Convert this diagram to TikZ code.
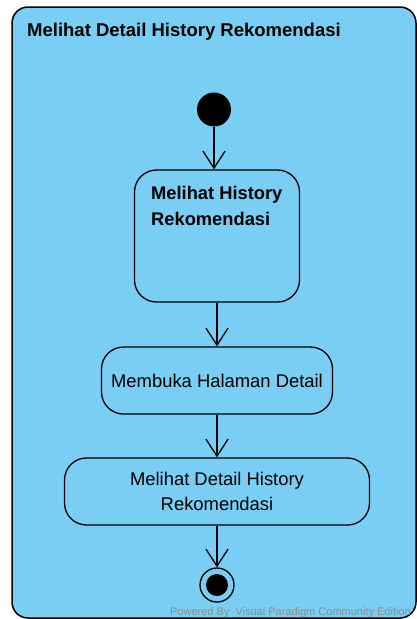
\documentclass[tikz,border=0pt]{standalone}
\usepackage{fontspec}
\setmainfont{Liberation Sans}
\usetikzlibrary{arrows.meta}
\definecolor{vpblue}{RGB}{122,206,244}
\definecolor{vpgray}{RGB}{140,140,140}

\begin{document}
\begin{tikzpicture}[x=1pt,y=-1pt]
      \useasboundingbox (0,0) rectangle (417,619);

      % partition frame
      \draw[fill=vpblue,line width=1.5pt,rounded corners=16pt] (12,7) rectangle (416,618);
      \node[anchor=base west,inner sep=0,font=\bfseries\fontsize{18.5}{22}\selectfont] (title) at (27,36) {Melihat Detail History Rekomendasi};

      \begin{scope}[every node/.style={draw,line width=1.3pt,rounded corners=22pt,font=\fontsize{18.4}{25}\selectfont,align=center}]
        \node[minimum width=165pt,minimum height=132pt] (act1) at (217,236) {};
        \node[minimum width=231pt,minimum height=67pt] (act2) at (217,380.5) {Membuka Halaman Detail};
        \node[minimum width=305pt,minimum height=67pt] (act3) at (217,491.5) {Melihat Detail History\\Rekomendasi};
      \end{scope}
      \node[anchor=north west,inner sep=0,align=left,font=\bfseries\fontsize{18.3}{26}\selectfont] (act1txt) at (151,186) {Melihat History\\Rekomendasi};

      \node[circle,fill=black,minimum size=34pt,inner sep=0] (start) at (214,109.5) {};
      \node[circle,draw,line width=1.3pt,minimum size=34pt,inner sep=0] (end) at (217,585) {};
      \node[circle,fill=black,minimum size=22pt,inner sep=0] (endin) at (end) {};

      \begin{scope}[every edge/.style={draw,line width=1.3pt,-{Straight Barb[length=17pt,width=22pt]}}]
        \path (start) edge (start |- act1.north);
        \path (act1) edge (act2);
        \path (act2) edge (act3);
        \path (act3) edge (end);
      \end{scope}

      \node[anchor=base east,inner sep=0,text=vpgray,font=\fontsize{11}{13}\selectfont] (powered) at (411,615) {Powered By\ \ Visual Paradigm Community Edition};

\end{tikzpicture}
\end{document}
